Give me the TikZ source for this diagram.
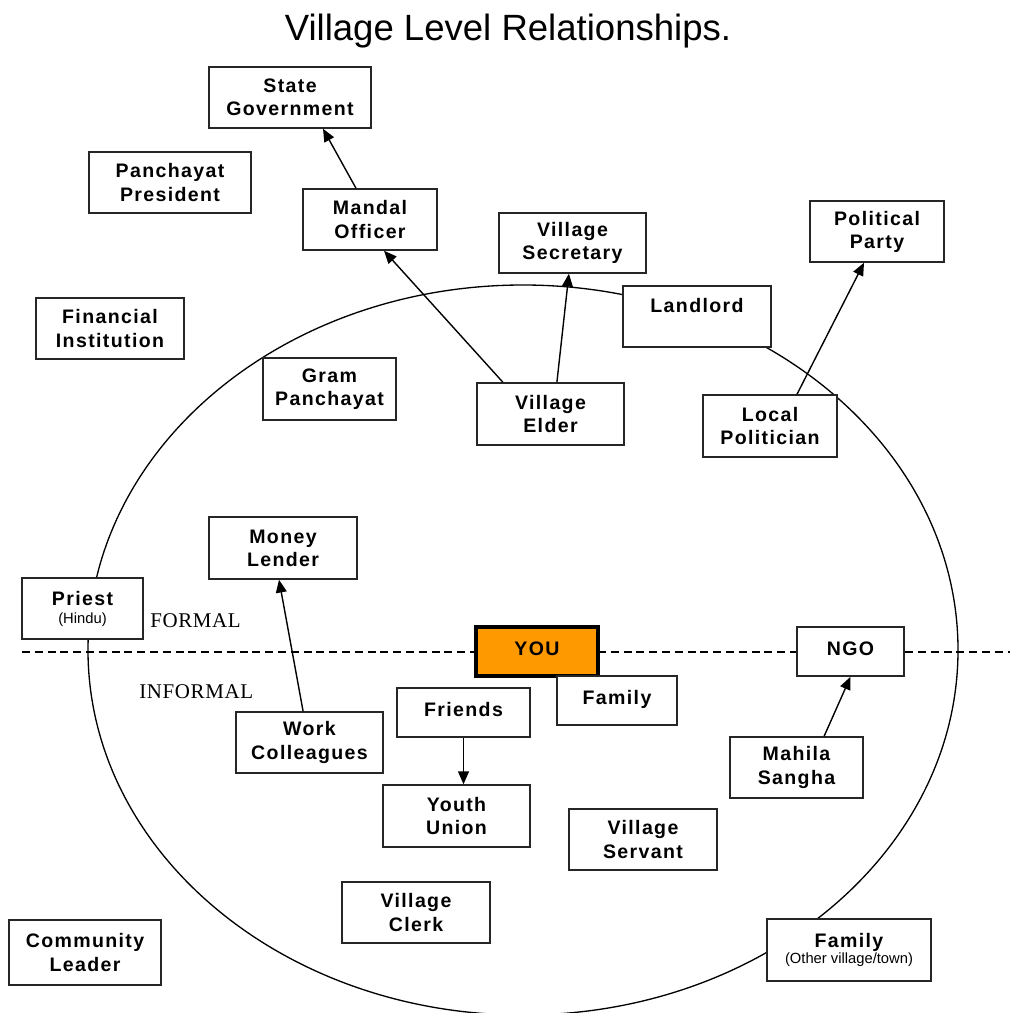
\documentclass[tikz,border=0pt]{standalone}
\usepackage{fontspec}
\setmainfont{Liberation Sans}
\newfontfamily\labelfont{Liberation Sans}[LetterSpace=7]
\newfontfamily\zonefont{Liberation Serif}[LetterSpace=3]
\usetikzlibrary{arrows.meta}

\definecolor{youorange}{HTML}{FF9900}
\newcommand\subtext[1]{{\normalfont\fontsize{10.5pt}{12pt}\selectfont #1}}

\tikzset{
  box/.style={draw=black!85, line width=0.375mm, fill=white, rectangle,
    inner sep=0pt, align=center,
    font=\labelfont\bfseries\fontsize{13.9pt}{16.4pt}\selectfont},
  oneline/.style={text depth=1.6mm},
  sz/.style 2 args={minimum width=#1*0.25mm, minimum height=#2*0.25mm},
  youbox/.style={box, oneline, fill=youorange, draw=black, line width=1mm},
  arr/.style={-{Triangle[length=3.2mm,width=2.7mm]}, line width=0.35mm, black},
  zone/.style={font=\zonefont\fontsize{14.9pt}{16pt}\selectfont, inner sep=0pt},
}

\begin{document}
\begin{tikzpicture}[x=0.25mm, y=-0.25mm]
\useasboundingbox[fill=white] (0,0) rectangle (1013,1013);

% title
\node[font=\fontsize{26pt}{30pt}\selectfont, anchor=base, inner sep=0pt] (title) at (508,40) {Village Level Relationships.};

% village boundary and the formal / informal divide
\draw[line width=0.33mm] (523,650) ellipse [x radius=108.75mm, y radius=91.25mm];
\coordinate (dashL) at (22,652);
\coordinate (dashR) at (1010,652);
\draw[line width=0.3mm, dash pattern=on 2mm off 1.2mm] (dashL) -- (dashR);

\node[zone, anchor=base west] (formal) at (150,627) {FORMAL};
\node[zone, anchor=base west] (informal) at (139,698) {INFORMAL};

% actors
\node[box, sz={162}{61}] (state) at (290,97.5) {State\\Government};
\node[box, sz={162}{61}] (panchpres) at (170,182.5) {Panchayat\\President};
\node[box, sz={134}{61}] (mandal) at (370,219.5) {Mandal\\Officer};
\node[box, sz={147}{60}] (secretary) at (572.5,243) {Village\\Secretary};
\node[box, sz={134}{61}] (party) at (877,231.5) {Political\\Party};
\node[box, sz={148}{61}] (landlord) at (697,316.5) {Landlord\\~};
\node[box, sz={148}{61}] (financial) at (110,328.5) {Financial\\Institution};
\node[box, sz={133}{62}] (gram) at (329.5,389) {Gram\\Panchayat};
\node[box, sz={147}{62}] (elder) at (550.5,414) {Village\\Elder};
\node[box, sz={134}{62}] (localpol) at (770,426) {Local\\Politician};
\node[box, sz={148}{62}] (money) at (283,548) {Money\\Lender};
\node[box, sz={121}{61}] (priest) at (82.5,608.5) {Priest\\[-3.6pt]\subtext{(Hindu)}};
\node[youbox, sz={122}{49}] (you) at (537,651.5) {YOU};
\node[box, oneline, sz={107}{49}] (ngo) at (850.5,651.5) {NGO};
\node[box, oneline, sz={133}{49}] (friends) at (463.5,712.5) {Friends};
\node[box, oneline, sz={120}{49}] (family) at (617,700.5) {Family};
\node[box, sz={147}{61}] (work) at (309.5,742.5) {Work\\Colleagues};
\node[box, sz={133}{61}] (mahila) at (796.5,767.5) {Mahila\\Sangha};
\node[box, sz={147}{62}] (youth) at (456.5,816) {Youth\\Union};
\node[box, sz={148}{61}] (servant) at (643,839.5) {Village\\Servant};
\node[box, sz={148}{61}] (clerk) at (416,912.5) {Village\\Clerk};
\node[box, sz={152}{65}] (community) at (85,952.5) {Community\\Leader};
\node[box, sz={164}{62}] (famother) at (849,950) {Family\\[-4.4pt]\subtext{(Other village/town)}};

% links
\draw[arr] ([xshift=-3.5mm]mandal.north) -- ([xshift=8.25mm]state.south);
\draw[arr] ([xshift=-11.9mm]elder.north) -- ([xshift=3.5mm]mandal.south);
\draw[arr] ([xshift=1.6mm]elder.north) -- ([xshift=-0.9mm]secretary.south);
\draw[arr] ([xshift=6.75mm]localpol.north) -- ([xshift=-3.25mm]party.south);
\draw[arr] ([xshift=-1.6mm]work.north) -- ([xshift=-1mm]money.south);
\draw[arr] (friends.south) -- (friends.south |- youth.north);
\draw[arr] ([xshift=6.9mm]mahila.north) -- (ngo.south);
\end{tikzpicture}
\end{document}
